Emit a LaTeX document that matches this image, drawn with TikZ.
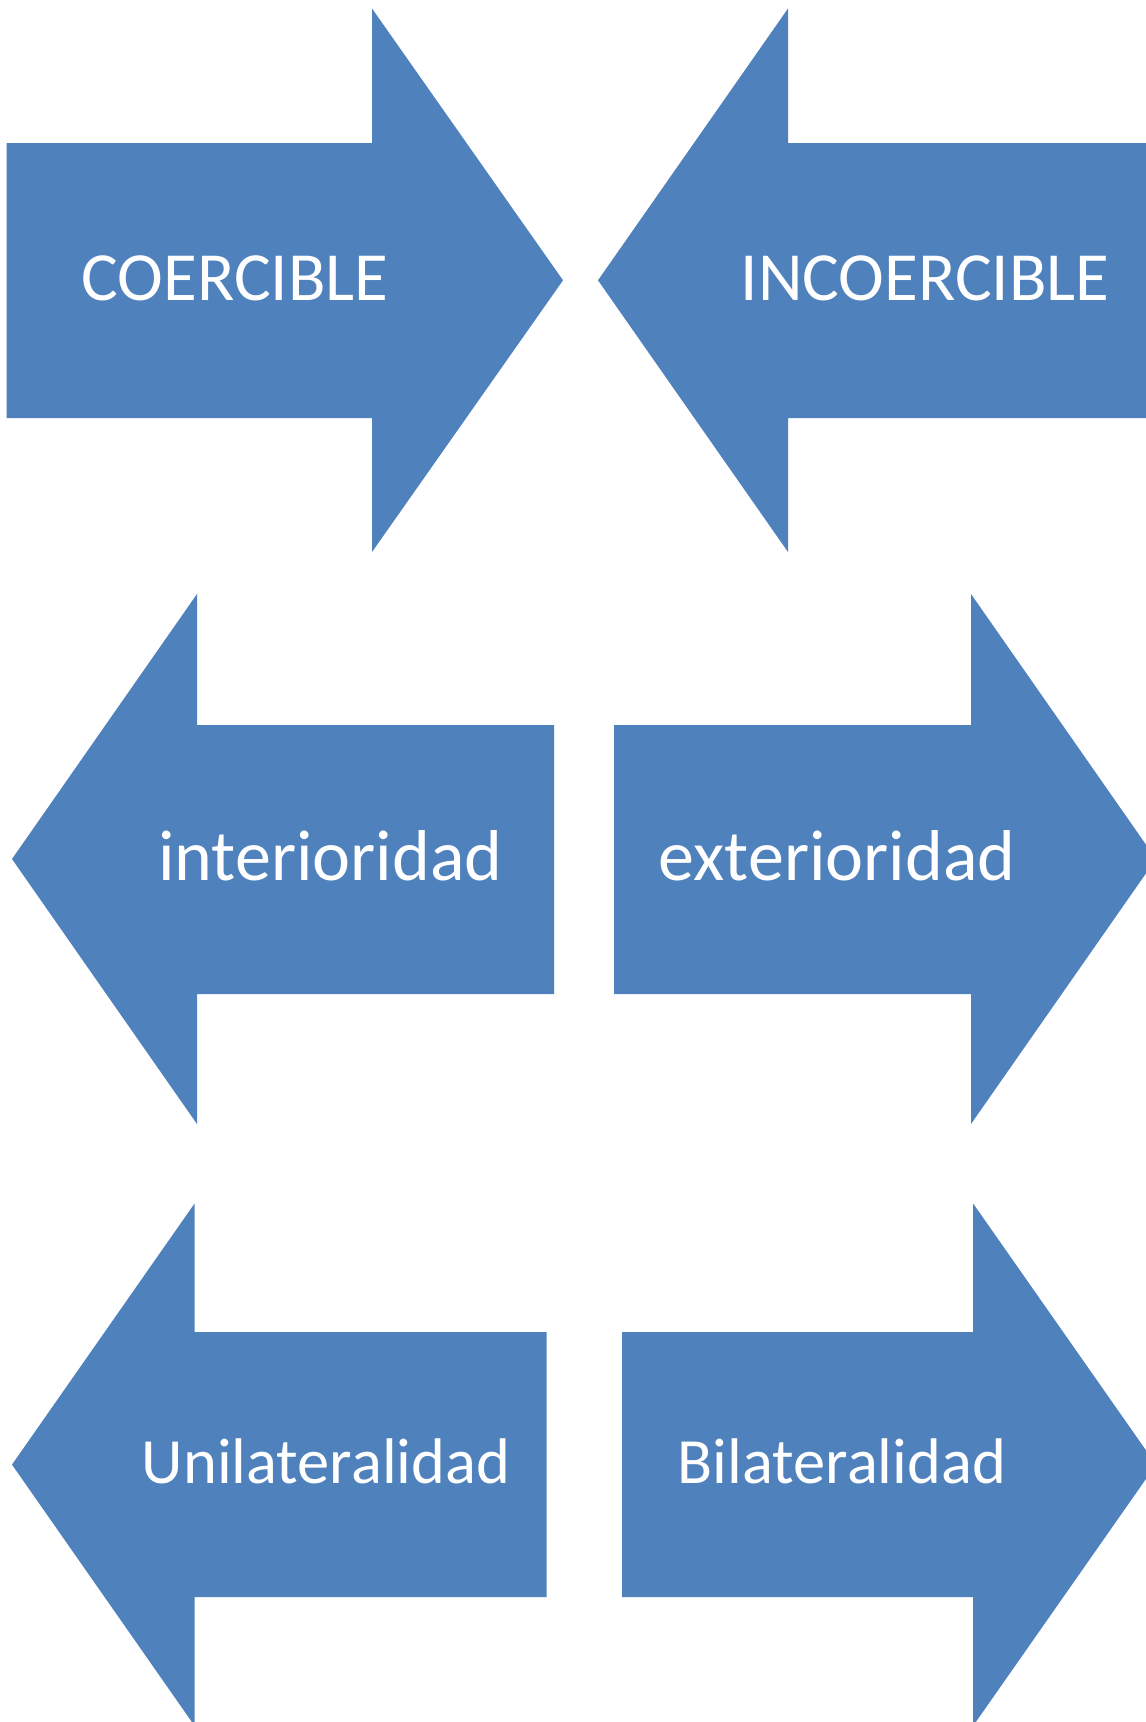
\documentclass[tikz,border=0pt]{standalone}
\usepackage{fontspec}
\setmainfont{Carlito}
\definecolor{arrowblue}{HTML}{4F81BD}
\begin{document}
\begin{tikzpicture}[x=1pt,y=-1pt,
  arrowshape/.style={fill=arrowblue, draw=none},
  lbl/.style={text=white, anchor=base, inner sep=0pt},
  lblA/.style={lbl, font=\fontsize{69}{83}\selectfont},
  lblB/.style={lbl, font=\fontsize{72}{86}\selectfont},
  lblC/.style={lbl, font=\fontsize{64.5}{77}\selectfont}]
\useasboundingbox (0,0) rectangle (1146,1722);
\clip (0,0) rectangle (1146,1722);
% row 1
\path[arrowshape] (6.7,143) -- (372,143) -- (372,8.5) -- (563,280.3) -- (372,552) -- (372,418) -- (6.7,418) -- cycle;
\path[arrowshape] (1160,143) -- (788,143) -- (788,8.5) -- (598,280.3) -- (788,552) -- (788,418) -- (1160,418) -- cycle;
% row 2
\path[arrowshape] (554,725) -- (197,725) -- (197,594) -- (12,859) -- (197,1124) -- (197,994) -- (554,994) -- cycle;
\path[arrowshape] (614,725) -- (971,725) -- (971,594) -- (1156,859) -- (971,1124) -- (971,994) -- (614,994) -- cycle;
% row 3
\path[arrowshape] (546.5,1332) -- (194.7,1332) -- (194.7,1203.3) -- (12,1464.6) -- (194.7,1726) -- (194.7,1597) -- (546.5,1597) -- cycle;
\path[arrowshape] (622,1332) -- (973,1332) -- (973,1203.3) -- (1156,1464.6) -- (973,1726) -- (973,1597) -- (622,1597) -- cycle;
% labels
\node[lblA] (coer) at (235,300) {COERCIBLE};
\node[lblA] (incoer) at (925,300) {INCOERCIBLE};
\node[lblB] (inter) at (330.4,880) {interioridad};
\node[lblB] (exter) at (837,880) {exterioridad};
\node[lblC] (uni) at (326,1483) {Unilateralidad};
\node[lblC] (bi) at (842,1483) {Bilateralidad};
\end{tikzpicture}
\end{document}
